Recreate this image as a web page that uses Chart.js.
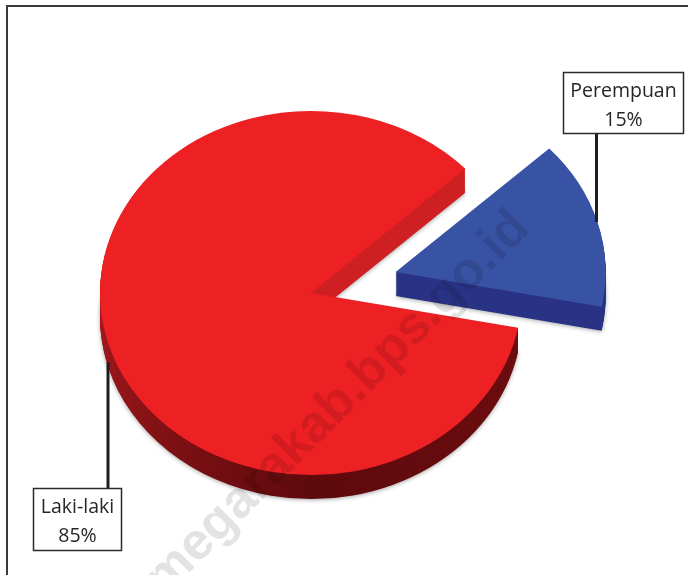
<!DOCTYPE html>
<html>
<head>
<meta charset="utf-8">
<style>
html, body { margin: 0; padding: 0; background: #fff; overflow: hidden; }
#frame { position: absolute; left: 6px; top: 5px; width: 690px; height: 580px; border-top: 2px solid #3a3a3a; border-left: 2px solid #3a3a3a; }
canvas { position: absolute; left: 0; top: 0; }
</style>
</head>
<body>
<div id="frame"></div>
<canvas id="pieChart" width="688" height="575"></canvas>
<script src="https://cdn.jsdelivr.net/npm/chart.js@4/dist/chart.umd.min.js"></script>
<script>
var categories = ['Perempuan', 'Laki-laki'];
var percentages = [15, 85];
var sliceColors = ['#3953A4', '#ED2024'];
var explodeBy = [88, 0];
var radiusBy = [210, 211];

var squash = 0.863;
var depth = 24;

function sideFill(ctx, el, i) {
    if (i === 0) return '#2A3385';
    var g = ctx.createConicGradient(0, el.x, el.y);
    g.addColorStop(0, '#6E0D10');
    g.addColorStop(0.25, '#5E0A0D');
    g.addColorStop(0.36, '#7C1013');
    g.addColorStop(0.5, '#A8191C');
    g.addColorStop(0.52, '#CE1F22');
    g.addColorStop(0.97, '#CE1F22');
    g.addColorStop(0.99, '#6E0D10');
    return g;
}

// pulls the slices apart and lays the pie flat with an extruded side
var pie3d = {
    id: 'pie3d',
    afterDatasetsUpdate: function (chart) {
        chart.getDatasetMeta(0).data.forEach(function (el, i) {
            var mid = (el.startAngle + el.endAngle) / 2;
            el.x += Math.cos(mid) * explodeBy[i];
            el.y += Math.sin(mid) * explodeBy[i];
            el.outerRadius = radiusBy[i];
        });
    },
    beforeDatasetsDraw: function (chart) {
        var ctx = chart.ctx;
        var area = chart.chartArea;
        var cy = (area.top + area.bottom) / 2;
        ctx.save();
        ctx.translate(0, cy);
        ctx.scale(1, squash);
        ctx.translate(0, -cy);
        chart.getDatasetMeta(0).data.forEach(function (el, i) {
            var side = Object.create(el);
            side.options = Object.assign({}, el.options, { backgroundColor: sideFill(ctx, el, i) });
            for (var d = depth; d > 0; d--) {
                ctx.save();
                if (d === depth) {
                    ctx.shadowColor = 'rgba(0,0,0,0.35)';
                    ctx.shadowBlur = 4;
                    ctx.shadowOffsetY = 1;
                }
                ctx.translate(0, d / squash);
                side.draw(ctx);
                ctx.restore();
            }
        });
    },
    afterDatasetsDraw: function (chart) {
        chart.ctx.restore();
    },
    afterDraw: function (chart) {
        var ctx = chart.ctx;
        ctx.save();
        ctx.strokeStyle = '#1e1e1e';
        ctx.lineWidth = 3;
        ctx.beginPath();
        ctx.moveTo(596.5, 134);
        ctx.lineTo(596.5, 222);
        ctx.moveTo(108, 362);
        ctx.lineTo(108, 488);
        ctx.stroke();
        drawLabel(ctx, 563, 72, 121, 62, 0);
        drawLabel(ctx, 33, 488, 89, 63, 1);

        // watermark
        ctx.translate(532, 230);
        ctx.rotate(-Math.PI / 4);
        ctx.fillStyle = 'rgba(0,0,0,0.11)';
        ctx.font = 'bold 52px "Liberation Sans"';
        ctx.textAlign = 'right';
        ctx.fillText('megarakab.bps.go.id', 0, 0);
        ctx.restore();
    }
};

function drawLabel(ctx, x, y, w, h, i) {
    ctx.fillStyle = '#fff';
    ctx.fillRect(x, y, w, h);
    ctx.strokeStyle = '#2a2a2a';
    ctx.lineWidth = 1.5;
    ctx.strokeRect(x + 0.5, y + 0.5, w - 1, h - 1);
    ctx.fillStyle = '#262626';
    ctx.font = '19.5px "Open Sans"';
    ctx.textAlign = 'center';
    ctx.fillText(categories[i], x + w / 2, y + 25);
    ctx.fillText(percentages[i] + '%', x + w / 2, y + 54);
}

new Chart(document.getElementById('pieChart'), {
    type: 'pie',
    data: {
        labels: categories,
        datasets: [{
            data: percentages,
            backgroundColor: sliceColors,
            borderWidth: 0
        }]
    },
    options: {
        responsive: false,
        animation: false,
        rotation: 47,
        radius: 211,
        layout: { padding: { right: 66, top: 11 } },
        plugins: { legend: { display: false }, tooltip: { enabled: false } }
    },
    plugins: [pie3d]
});
</script>
</body>
</html>
